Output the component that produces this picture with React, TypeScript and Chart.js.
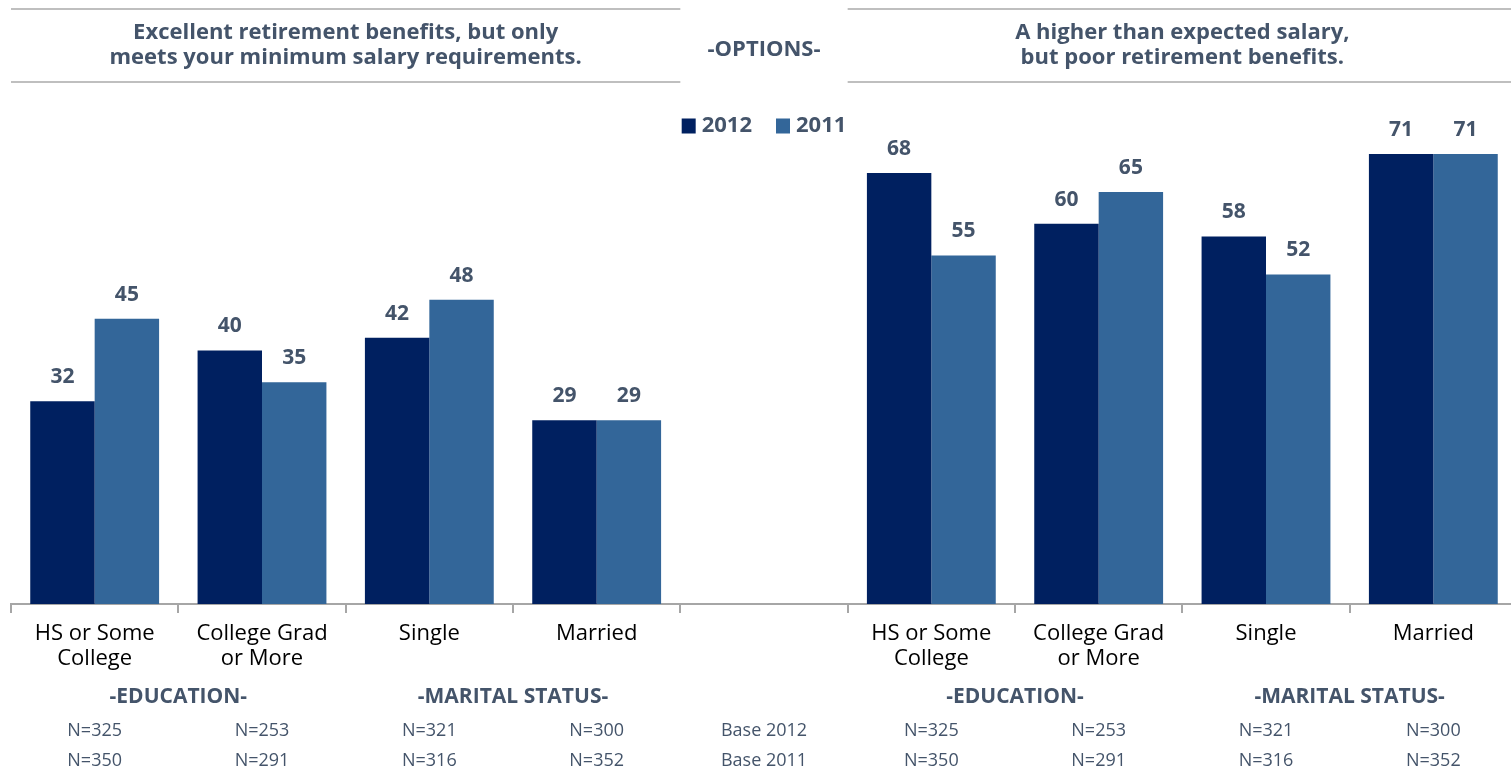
import React, { useEffect, useRef } from 'react';
import { Chart, registerables } from 'chart.js';

Chart.register(...registerables);

const categories: (string | string[])[] = [
  ['HS or Some', 'College'],
  ['College Grad', 'or More'],
  'Single',
  'Married',
  '',
  ['HS or Some', 'College'],
  ['College Grad', 'or More'],
  'Single',
  'Married',
];
const seriesNames = ['2012', '2011'];
const values2012 = [32, 40, 42, 29, null, 68, 60, 58, 71];
const values2011 = [45, 35, 48, 29, null, 55, 65, 52, 71];
const base2012 = ['N=325', 'N=253', 'N=321', 'N=300', 'Base 2012', 'N=325', 'N=253', 'N=321', 'N=300'];
const base2011 = ['N=350', 'N=291', 'N=316', 'N=352', 'Base 2011', 'N=350', 'N=291', 'N=316', 'N=352'];
const groupLabels = ['-EDUCATION-', '-MARITAL STATUS-'];
const leftTitle = ['Excellent retirement benefits, but only', 'meets your minimum salary requirements.'];
const rightTitle = ['A higher than expected salary,', 'but poor retirement benefits.'];
const middleTitle = '-OPTIONS-';
const yMax = 80;

const FONT = "'Open Sans', 'Noto Sans', sans-serif";
const TEXT = '#44546a';
const DARK = '#002060';
const LIGHT = '#336699';
const RULE = '#bfbfbf';

const overlayPlugin = {
  id: 'overlay',
  afterDraw(chart: any) {
    const ctx = chart.ctx;
    const x = chart.scales.x;
    const n = categories.length;
    const cw = (x.right - x.left) / n;
    const c = (i: number) => x.getPixelForValue(i);
    ctx.save();

    // title rules
    ctx.strokeStyle = RULE;
    ctx.lineWidth = 2;
    const rules = [
      [c(0) - cw / 2, c(3) + cw / 2],
      [c(5) - cw / 2, c(8) + cw / 2],
    ];
    rules.forEach(([a, b]) => {
      [9, 82].forEach((y) => {
        ctx.beginPath();
        ctx.moveTo(a, y);
        ctx.lineTo(b, y);
        ctx.stroke();
      });
    });

    ctx.textAlign = 'center';
    ctx.textBaseline = 'middle';
    ctx.fillStyle = TEXT;
    ctx.font = `bold 22px ${FONT}`;
    const lc = (c(0) + c(3)) / 2;
    const rc = (c(5) + c(8)) / 2;
    leftTitle.forEach((t, i) => ctx.fillText(t, lc, 33 + i * 25));
    rightTitle.forEach((t, i) => ctx.fillText(t, rc, 33 + i * 25));
    ctx.fillText(middleTitle, c(4), 50);

    // legend
    ctx.font = `bold 22px ${FONT}`;
    const boxW = 14;
    const boxH = 15;
    const gapText = 6;
    const gapItem = 24;
    const items = chart.data.datasets.map((ds: any) => ({
      label: ds.label,
      color: ds.backgroundColor,
      w: boxW + gapText + ctx.measureText(ds.label).width,
    }));
    const total = items.reduce((s: number, it: any) => s + it.w, 0) + gapItem * (items.length - 1);
    let lx = c(4) - total / 2;
    const ly = 126;
    items.forEach((it: any) => {
      ctx.fillStyle = it.color;
      ctx.fillRect(lx, ly - boxH / 2, boxW, boxH);
      ctx.fillStyle = TEXT;
      ctx.textAlign = 'left';
      ctx.fillText(it.label, lx + boxW + gapText, ly);
      lx += it.w + gapItem;
    });
    ctx.textAlign = 'center';

    // data labels
    ctx.font = `bold 21px ${FONT}`;
    ctx.fillStyle = TEXT;
    chart.data.datasets.forEach((ds: any, di: number) => {
      const meta = chart.getDatasetMeta(di);
      meta.data.forEach((el: any, i: number) => {
        const v = ds.data[i];
        if (v === null || v === undefined) return;
        ctx.fillText(String(v), el.x, el.y - 24);
      });
    });

    // group labels
    ctx.font = `bold 21px ${FONT}`;
    const groupCenters = [
      [(c(0) + c(1)) / 2, groupLabels[0]],
      [(c(2) + c(3)) / 2, groupLabels[1]],
      [(c(5) + c(6)) / 2, groupLabels[0]],
      [(c(7) + c(8)) / 2, groupLabels[1]],
    ];
    groupCenters.forEach(([px, t]) => ctx.fillText(t as string, px as number, 697));

    // base rows
    ctx.font = `18px ${FONT}`;
    base2012.forEach((t, i) => ctx.fillText(t, c(i), 731));
    base2011.forEach((t, i) => ctx.fillText(t, c(i), 761));

    ctx.restore();
  },
};

export default function App() {
  const ref = useRef<HTMLCanvasElement | null>(null);
  useEffect(() => {
    if (!ref.current) return;
    const chart = new Chart(ref.current, {
      type: 'bar',
      data: {
        labels: categories,
        datasets: [
          { label: seriesNames[0], data: values2012, backgroundColor: DARK, borderWidth: 0 },
          { label: seriesNames[1], data: values2011, backgroundColor: LIGHT, borderWidth: 0 },
        ],
      },
      options: {
        animation: false,
        responsive: false,
        maintainAspectRatio: false,
        devicePixelRatio: 1,
        datasets: { bar: { categoryPercentage: 0.77, barPercentage: 1 } },
        layout: { padding: { left: 11, right: 3, top: 97, bottom: 0 } },
        plugins: {
          tooltip: { enabled: false },
          legend: { display: false },
        },
        scales: {
          x: {
            afterFit: (scale: any) => {
              scale.height = 165;
            },
            grid: {
              display: true,
              drawOnChartArea: false,
              drawTicks: true,
              tickLength: 9,
              color: '#a6a6a6',
              lineWidth: 2,
              offset: true,
            },
            border: { display: true, color: '#a6a6a6', width: 2 },
            ticks: {
              color: '#000000',
              padding: 8,
              maxRotation: 0,
              autoSkip: false,
              font: { family: FONT, size: 22, lineHeight: 1.13 },
            },
          },
          y: { display: false, min: 0, max: yMax },
        },
      },
      plugins: [overlayPlugin],
    } as any);
    return () => chart.destroy();
  }, []);
  return (
    <div style={{ position: 'fixed', left: 0, top: 0, width: 1511, height: 769, overflow: 'hidden', background: '#fff' }}>
      <canvas ref={ref} width={1520} height={769} style={{ display: 'block' }} />
    </div>
  );
}
